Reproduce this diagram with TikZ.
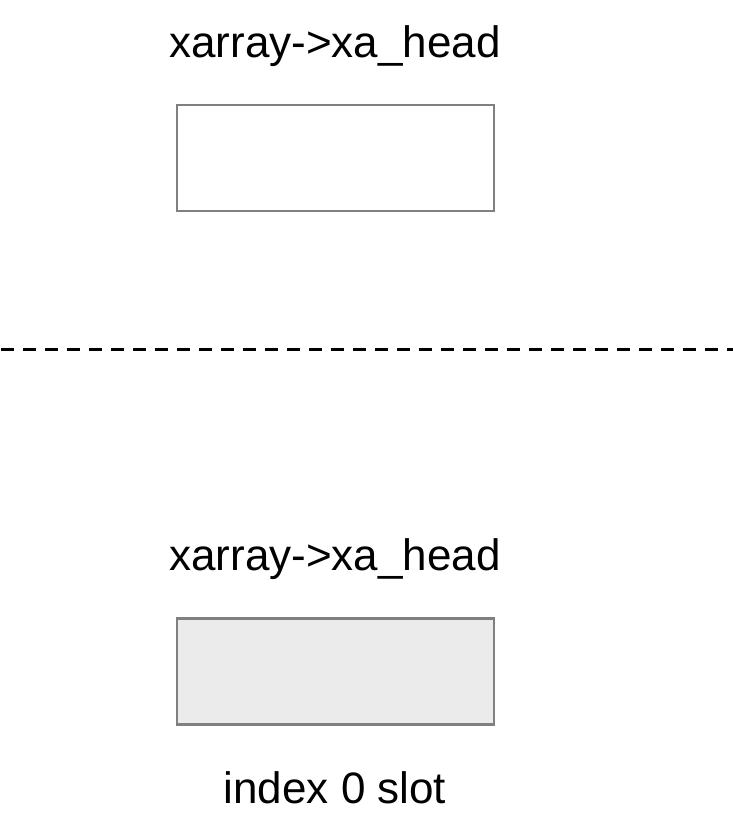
\documentclass[tikz,border=0pt]{standalone}
\usepackage{fontspec}
\setmainfont{Liberation Sans}
\begin{document}
\begin{tikzpicture}[x=1pt,y=-1pt,
  lbl/.style={font=\fontsize{44}{48}\selectfont, inner sep=0pt, anchor=base},
  slotbox/.style={draw={rgb,255:red,128;green,128;blue,128}, line width=2.5pt, minimum width=317pt, minimum height=106pt, inner sep=0pt},
  sep/.style={line width=3pt, dash pattern=on 13pt off 9pt}]
\useasboundingbox (0,0) rectangle (733,830);
\node[lbl] (t1) at (335,57) {xarray->xa\_head};
\node[slotbox] (b1) at (335.5,158) {};
\coordinate (l) at (1,349);
\coordinate (r) at (733,349);
\draw[sep] (l) -- (r);
\node[lbl] (t2) at (335,570) {xarray->xa\_head};
\node[slotbox, fill={rgb,255:red,235;green,235;blue,235}] (b2) at (335.5,671.5) {};
\node[lbl] (t3) at (335,803) {index 0 slot};
\end{tikzpicture}
\end{document}
